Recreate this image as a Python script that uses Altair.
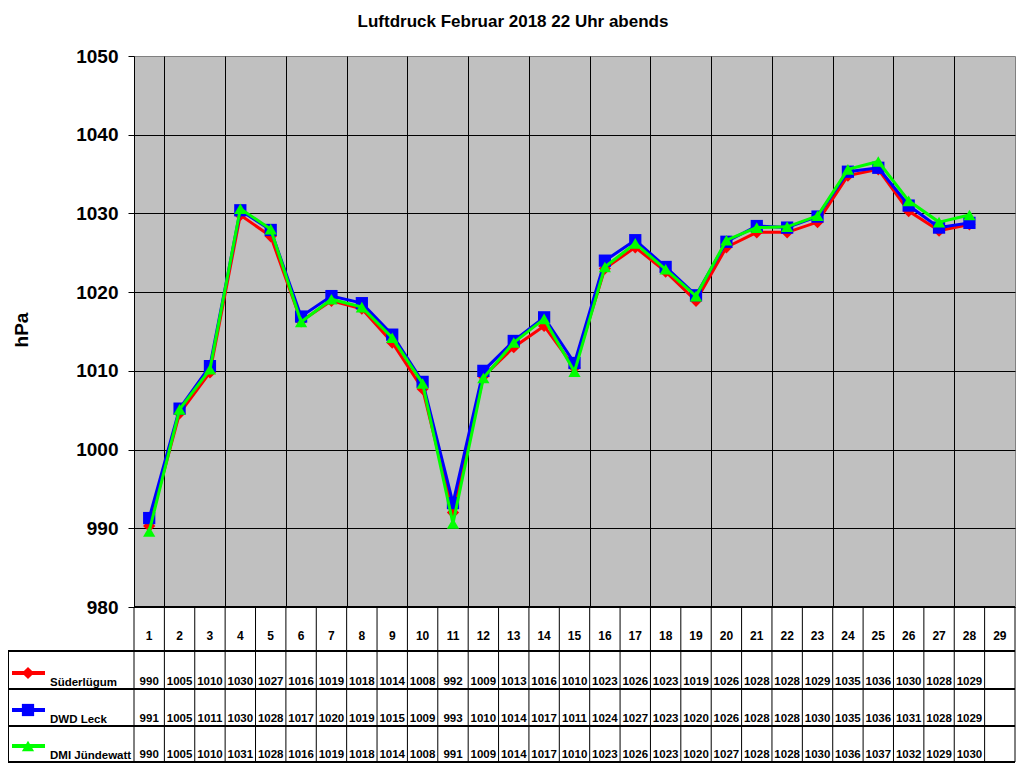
import pandas as pd
import altair as alt

days = list(range(1, 29))
all_days = list(range(1, 30))

sued = [990.3, 1004.6, 1009.8, 1029.8, 1027.1, 1016.3, 1018.9, 1017.9, 1013.6, 1007.7,
        992.0, 1009.3, 1013.0, 1015.7, 1010.4, 1023.0, 1025.7, 1022.6, 1018.9, 1025.7,
        1027.6, 1027.6, 1028.9, 1034.8, 1035.6, 1030.3, 1027.8, 1028.6]
dwd = [991.3, 1005.2, 1010.6, 1030.4, 1027.9, 1016.9, 1019.5, 1018.6, 1014.6, 1008.6,
       993.2, 1010.0, 1013.8, 1016.8, 1011.0, 1024.0, 1026.6, 1023.2, 1019.6, 1026.4,
       1028.4, 1028.2, 1029.6, 1035.3, 1035.8, 1031.0, 1028.2, 1028.8]
dmi = [989.6, 1005.1, 1010.2, 1030.6, 1028.0, 1016.2, 1019.1, 1018.1, 1014.2, 1008.4,
       990.6, 1009.1, 1013.6, 1016.6, 1009.9, 1023.2, 1026.2, 1022.9, 1019.5, 1026.6,
       1028.2, 1028.3, 1029.7, 1035.6, 1036.6, 1031.6, 1028.9, 1029.8]

sued_tab = [990, 1005, 1010, 1030, 1027, 1016, 1019, 1018, 1014, 1008, 992, 1009, 1013, 1016,
            1010, 1023, 1026, 1023, 1019, 1026, 1028, 1028, 1029, 1035, 1036, 1030, 1028, 1029]
dwd_tab = [991, 1005, 1011, 1030, 1028, 1017, 1020, 1019, 1015, 1009, 993, 1010, 1014, 1017,
           1011, 1024, 1027, 1023, 1020, 1026, 1028, 1028, 1030, 1035, 1036, 1031, 1028, 1029]
dmi_tab = [990, 1005, 1010, 1031, 1028, 1016, 1019, 1018, 1014, 1008, 991, 1009, 1014, 1017,
           1010, 1023, 1026, 1023, 1020, 1027, 1028, 1028, 1030, 1036, 1037, 1032, 1029, 1030]

stations = ["Süderlügum", "DWD Leck", "DMI Jündewatt"]
colors = ["#FF0000", "#0000FF", "#00FF00"]
shapes = ["diamond", "square", "triangle-up"]
series = [sued, dwd, dmi]
tables = [sued_tab, dwd_tab, dmi_tab]

FONT = "Liberation Sans"
W, H = 881, 551
ROWS = [H, 595, 633, 670, 706]   # Tabellenlinien (Pixel unter Diagrammoberkante)

frames = []
for st, vals, tab in zip(stations, series, tables):
    frames.append(pd.DataFrame({"station": st, "day": days, "value": vals, "label": tab}))
df = pd.concat(frames, ignore_index=True)

day_df = pd.DataFrame({"day": all_days})
bounds_df = pd.DataFrame({"b": [d - 0.5 for d in all_days] + [all_days[-1] + 0.5]})

x_enc = alt.X("day:Q", scale=alt.Scale(domain=[0.5, 29.5], nice=False, zero=False),
              axis=alt.Axis(values=[d + 0.5 for d in all_days[:-1]], grid=True,
                            gridColor="black", gridOpacity=1, labels=False, ticks=False,
                            domain=False, title=None))
y_enc = alt.Y("value:Q", scale=alt.Scale(domain=[980, 1050], nice=False, zero=False),
              axis=alt.Axis(values=list(range(980, 1051, 10)), format="d", grid=True,
                            gridColor="black",
                            gridOpacity={"condition": {"test": "datum.value === 1050", "value": 0},
                                         "value": 1},
                            domainColor="black", tickColor="black", tickSize=6,
                            labelFont=FONT, labelFontSize=19, labelFontWeight="bold",
                            labelColor="black", labelPadding=10, title=None))

base = alt.Chart(df)
layers = []

# Diagrammlinien und Marker
for i, st in enumerate(stations):
    sel = base.transform_filter(alt.datum.station == st)
    layers.append(sel.mark_line(color=colors[i], strokeWidth=3).encode(x=x_enc, y=y_enc))
    layers.append(sel.mark_point(shape=shapes[i], filled=True, opacity=1, size=150,
                                 color=colors[i]).encode(x="day:Q", y="value:Q"))

# Tabelle: Gitter
layers.append(alt.Chart(bounds_df).mark_rule(color="black", strokeWidth=1).encode(
    x="b:Q", y=alt.value(ROWS[0]), y2=alt.value(ROWS[-1])))
for k, ry in enumerate(ROWS):
    x0 = 0 if k == 0 else -126
    layers.append(alt.Chart(day_df).mark_rule(color="black", strokeWidth=1).encode(
        x=alt.value(x0), x2=alt.value(W), y=alt.value(ry)))
layers.append(alt.Chart(day_df).mark_rule(color="black", strokeWidth=1).encode(
    x=alt.value(-126), y=alt.value(ROWS[1]), y2=alt.value(ROWS[-1])))

# Tabelle: Tagesnummern
layers.append(alt.Chart(day_df).mark_text(font=FONT, fontSize=12, fontWeight="bold",
                                          color="black", baseline="alphabetic").encode(
    x="day:Q", y=alt.value(H + 33), text="day:N"))

# Tabelle: Werte und Legende
for i, st in enumerate(stations):
    sel = base.transform_filter(alt.datum.station == st)
    ty = ROWS[i + 2] - 4.5
    sy = ROWS[i + 2] - 16
    layers.append(sel.mark_text(font=FONT, fontSize=11.5, fontWeight="bold", color="black",
                                baseline="alphabetic").encode(
        x="day:Q", y=alt.value(ty), text="label:N"))
    leg = alt.Chart(pd.DataFrame({"station": [st]}))
    layers.append(leg.mark_rule(color=colors[i], strokeWidth=4).encode(
        x=alt.value(-122), x2=alt.value(-89), y=alt.value(sy)))
    layers.append(leg.mark_point(shape=shapes[i], filled=True, opacity=1, size=150,
                                 color=colors[i]).encode(x=alt.value(-106), y=alt.value(sy)))
    layers.append(leg.mark_text(font=FONT, fontSize=11.5, fontWeight="bold", color="black",
                                align="left", baseline="alphabetic").encode(
        x=alt.value(-84), y=alt.value(ty + 1), text="station:N"))

# Titel und Achsentitel
txt = alt.Chart(pd.DataFrame({"t": ["Luftdruck Februar 2018 22 Uhr abends"]}))
layers.append(txt.mark_text(font=FONT, fontSize=17, fontWeight="bold", color="black",
                            align="center", baseline="alphabetic").encode(
    x=alt.value(379), y=alt.value(-29.5), text="t:N"))
ax = alt.Chart(pd.DataFrame({"t": ["hPa"]}))
layers.append(ax.mark_text(font=FONT, fontSize=19, fontWeight="bold", color="black",
                           align="center", baseline="middle", angle=270).encode(
    x=alt.value(-112), y=alt.value(274), text="t:N"))

chart = alt.layer(*layers).properties(
    width=W, height=H,
    autosize=alt.AutoSizeParams(type="none"),
    padding={"left": 126, "top": 48, "right": 1, "bottom": ROWS[-1] + 1 - H},
).configure_view(fill="#C0C0C0", stroke="#808080", strokeWidth=1)

chart.save("out.html", embed_options={"renderer": "svg", "actions": False})
